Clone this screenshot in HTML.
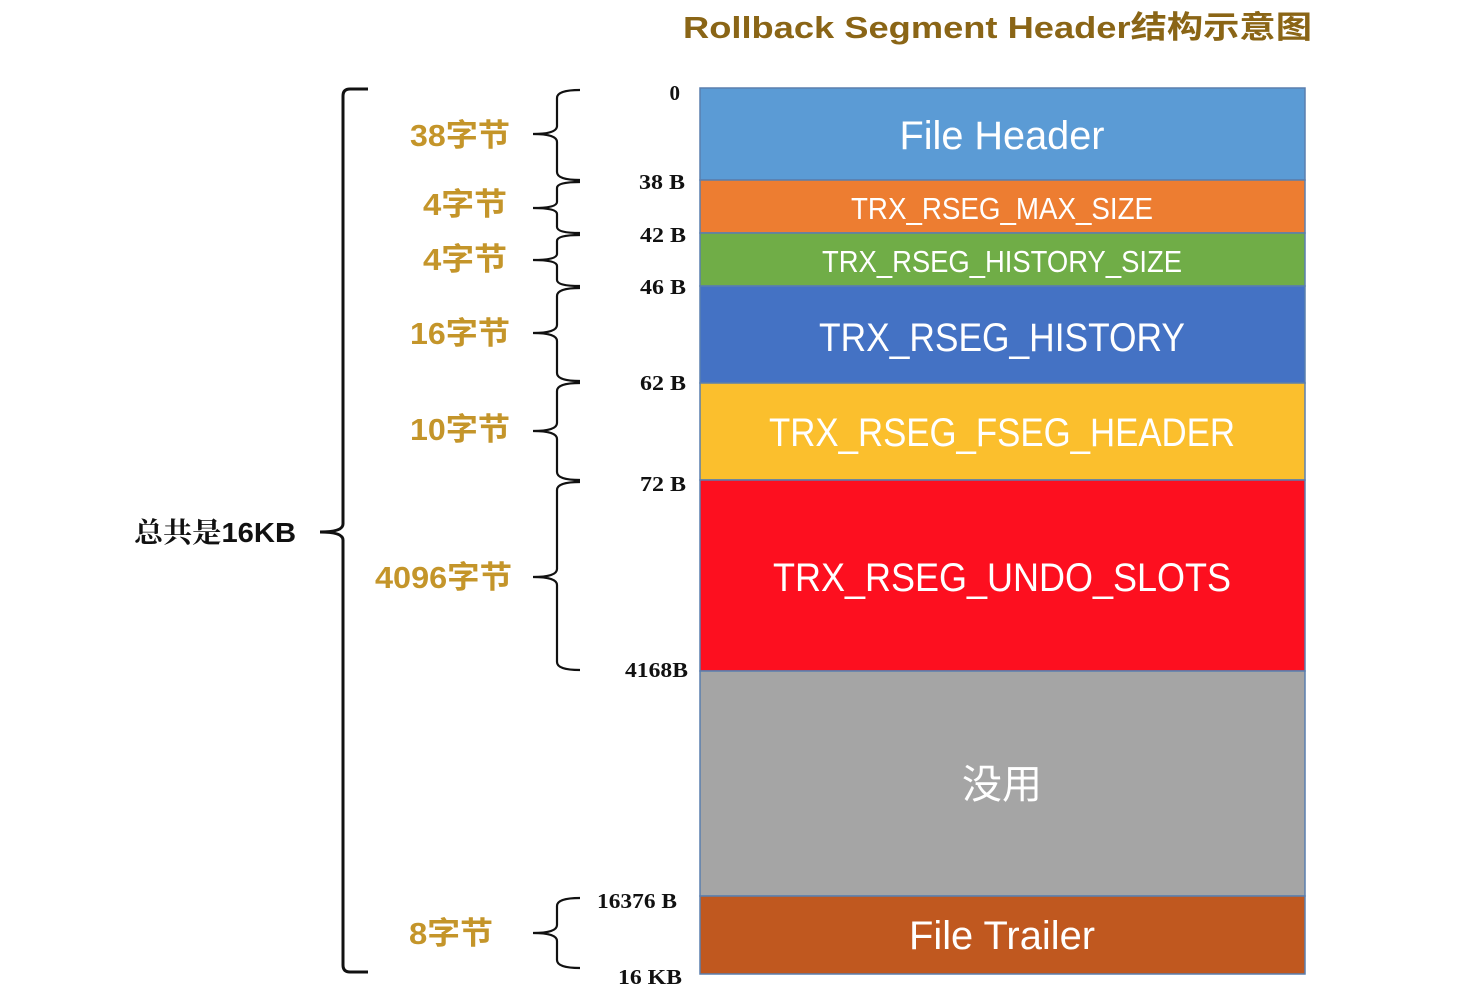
<!DOCTYPE html>
<html><head><meta charset="utf-8"><style>
html,body{margin:0;padding:0;background:#fff;}
svg{display:block;}
</style></head><body>
<svg width="1482" height="992" viewBox="0 0 1482 992" xmlns="http://www.w3.org/2000/svg">
<text x="683" y="38" font-family="Liberation Sans, Noto Sans CJK SC, sans-serif" font-size="31" font-weight="bold" fill="#8a6516" textLength="629" lengthAdjust="spacingAndGlyphs">Rollback Segment Header结构示意图</text>

<g stroke="#5a7fae" stroke-width="1.5">
<rect x="700" y="88" width="605" height="92" fill="#5b9bd5"/>
<rect x="700" y="180" width="605" height="53" fill="#ed7d31"/>
<rect x="700" y="233" width="605" height="53" fill="#70ad47"/>
<rect x="700" y="286" width="605" height="97" fill="#4472c4"/>
<rect x="700" y="383" width="605" height="97" fill="#fbbf2d"/>
<rect x="700" y="480" width="605" height="191" fill="#fd0f1f"/>
<rect x="700" y="671" width="605" height="225" fill="#a5a5a5"/>
<rect x="700" y="896" width="605" height="78" fill="#c0581f"/>
</g>
<g font-family="Liberation Sans, Noto Sans CJK SC, sans-serif" fill="#fff" text-anchor="middle">
<text x="1002" y="149" font-size="40" textLength="205" lengthAdjust="spacingAndGlyphs">File Header</text>
<text x="1002" y="219" font-size="31" textLength="302" lengthAdjust="spacingAndGlyphs">TRX_RSEG_MAX_SIZE</text>
<text x="1002" y="272" font-size="31" textLength="360" lengthAdjust="spacingAndGlyphs">TRX_RSEG_HISTORY_SIZE</text>
<text x="1002" y="351" font-size="40" textLength="366" lengthAdjust="spacingAndGlyphs">TRX_RSEG_HISTORY</text>
<text x="1002" y="446" font-size="40" textLength="466" lengthAdjust="spacingAndGlyphs">TRX_RSEG_FSEG_HEADER</text>
<text x="1002" y="591" font-size="40" textLength="458" lengthAdjust="spacingAndGlyphs">TRX_RSEG_UNDO_SLOTS</text>
<text x="1002" y="798" font-size="40">没用</text>
<text x="1002" y="949" font-size="40" textLength="186" lengthAdjust="spacingAndGlyphs">File Trailer</text>
</g>

<g font-family="Liberation Serif, serif" font-weight="bold" font-size="21" fill="#111" text-anchor="end">
<text x="680" y="100">0</text>
<text x="685" y="189" textLength="46" lengthAdjust="spacingAndGlyphs">38 B</text>
<text x="686" y="242" textLength="46" lengthAdjust="spacingAndGlyphs">42 B</text>
<text x="686" y="294" textLength="46" lengthAdjust="spacingAndGlyphs">46 B</text>
<text x="686" y="390" textLength="46" lengthAdjust="spacingAndGlyphs">62 B</text>
<text x="686" y="491" textLength="46" lengthAdjust="spacingAndGlyphs">72 B</text>
<text x="688" y="677" textLength="63" lengthAdjust="spacingAndGlyphs">4168B</text>
<text x="677" y="908" textLength="80" lengthAdjust="spacingAndGlyphs">16376 B</text>
<text x="682" y="984" textLength="64" lengthAdjust="spacingAndGlyphs">16 KB</text>
</g>

<g fill="none" stroke="#111" stroke-width="2.2">
<path d="M580,90 Q557,90 557,98 L557,126 Q557,134 533,134 Q557,134 557,142 L557,172 Q557,180 580,180"/>
<path d="M580,182 Q557,182 557,188 L557,202 Q557,208 533,208 Q557,208 557,214 L557,227 Q557,233 580,233"/>
<path d="M580,235 Q557,235 557,241 L557,254 Q557,260 533,260 Q557,260 557,266 L557,280 Q557,286 580,286"/>
<path d="M580,288 Q557,288 557,296 L557,325 Q557,333 533,333 Q557,333 557,341 L557,373 Q557,381 580,381"/>
<path d="M580,383 Q557,383 557,391 L557,423 Q557,431 533,431 Q557,431 557,439 L557,472 Q557,480 580,480"/>
<path d="M580,482 Q557,482 557,490 L557,569 Q557,577 533,577 Q557,577 557,585 L557,662 Q557,670 580,670"/>
<path d="M580,898 Q557,898 557,906 L557,925 Q557,933 533,933 Q557,933 557,941 L557,960 Q557,968 580,968"/>
</g>
<path d="M368,89 L350,89 Q343,89 343,96 L343,524 Q343,532 320,532 Q343,532 343,540 L343,965 Q343,972 350,972 L368,972" fill="none" stroke="#111" stroke-width="3"/>

<g font-family="Liberation Sans, Noto Sans CJK SC, sans-serif" font-weight="bold" font-size="31" fill="#c4952a" text-anchor="end">
<text x="510" y="146" textLength="100" lengthAdjust="spacingAndGlyphs">38字节</text>
<text x="507" y="215" textLength="84" lengthAdjust="spacingAndGlyphs">4字节</text>
<text x="507" y="270" textLength="84" lengthAdjust="spacingAndGlyphs">4字节</text>
<text x="510" y="344" textLength="100" lengthAdjust="spacingAndGlyphs">16字节</text>
<text x="510" y="440" textLength="100" lengthAdjust="spacingAndGlyphs">10字节</text>
<text x="512" y="588" textLength="137" lengthAdjust="spacingAndGlyphs">4096字节</text>
<text x="493" y="944" textLength="84" lengthAdjust="spacingAndGlyphs">8字节</text>
</g>
<text x="296" y="542" text-anchor="end" font-family="Liberation Sans, Noto Serif CJK SC, sans-serif" font-weight="bold" font-size="28" fill="#111" textLength="162" lengthAdjust="spacingAndGlyphs">总共是16KB</text>
</svg>
</body></html>
